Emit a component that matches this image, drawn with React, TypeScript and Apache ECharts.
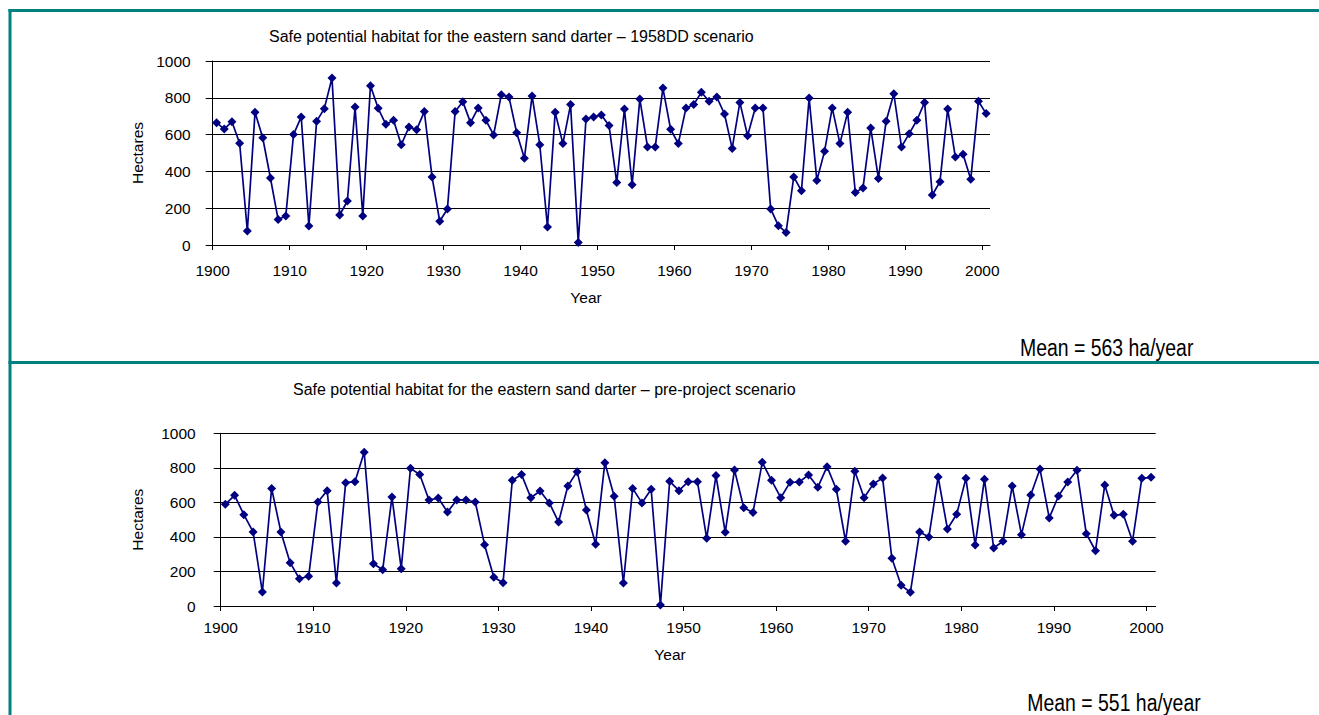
import React, { useEffect, useRef } from "react";
import * as echarts from "echarts";

// ---- data ----
const YEARS: number[] = Array.from({ length: 101 }, (_, i) => 1900 + i);

const HABITAT_1958DD: number[] = [
  665, 630, 670, 553, 76, 721, 583, 364, 139, 158,
  600, 696, 103, 672, 741, 908, 163, 239, 750, 158,
  866, 743, 656, 678, 545, 641, 627, 725, 370, 129,
  196, 725, 779, 665, 745, 678, 598, 817, 804, 610,
  471, 810, 545, 98, 721, 551, 763, 13, 685, 696,
  707, 649, 339, 739, 328, 793, 533, 533, 853, 629,
  551, 745, 763, 830, 781, 804, 712, 525, 775, 594,
  745, 745, 196, 105, 68, 370, 295, 799, 351, 509,
  745, 551, 721, 286, 310, 636, 362, 672, 822, 533,
  605, 678, 775, 272, 344, 739, 478, 493, 357, 781,
  714,
];

const HABITAT_PRE_PROJECT: number[] = [
  589, 641, 529, 429, 81, 681, 429, 251, 158, 172,
  602, 668, 133, 714, 720, 890, 245, 210, 631, 216,
  797, 761, 614, 625, 544, 614, 614, 602, 355, 166,
  135, 728, 761, 627, 666, 597, 486, 695, 778, 556,
  357, 830, 635, 133, 681, 597, 676, 6, 722, 668,
  720, 720, 392, 755, 427, 788, 569, 542, 832, 728,
  627, 716, 718, 759, 687, 807, 676, 375, 780, 627,
  707, 741, 276, 120, 79, 429, 400, 747, 446, 531,
  739, 353, 734, 336, 375, 695, 413, 643, 793, 510,
  637, 718, 786, 419, 320, 701, 525, 531, 375, 739,
  745,
];

const X_TICKS: number[] = [1900, 1910, 1920, 1930, 1940, 1950, 1960, 1970, 1980, 1990, 2000];
const Y_TICKS: number[] = [0, 200, 400, 600, 800, 1000];

const TITLE_TOP = "Safe potential habitat for the eastern sand darter \u2013 1958DD scenario";
const TITLE_BOTTOM = "Safe potential habitat for the eastern sand darter \u2013 pre-project scenario";
const MEAN_TOP = "Mean = 563 ha/year";
const MEAN_BOTTOM = "Mean = 551 ha/year";
const X_NAME = "Year";
const Y_NAME = "Hectares";

const FONT = '"Liberation Sans", Arial, Helvetica, sans-serif';
const NAVY = "#000080";
const TEAL = "#008080";

function makeXAxis(gridIndex: number, margin: number) {
  return {
    type: "value",
    gridIndex,
    min: X_TICKS[0],
    max: X_TICKS[X_TICKS.length - 1] + 1,
    interval: 10,
    axisLine: { show: true, onZero: false, lineStyle: { color: "#000", width: 1 } },
    axisTick: { show: true, length: 5, customValues: X_TICKS, lineStyle: { color: "#000" } },
    axisLabel: {
      customValues: X_TICKS,
      margin,
      color: "#000",
      fontSize: 15.5,
      fontFamily: FONT,
      formatter: (v: number) => (v % 10 === 0 ? String(v) : ""),
    },
    splitLine: { show: false },
  };
}

function makeYAxis(gridIndex: number, margin: number, nameGap: number) {
  return {
    type: "value",
    gridIndex,
    min: Y_TICKS[0],
    max: Y_TICKS[Y_TICKS.length - 1],
    interval: 200,
    name: Y_NAME,
    nameLocation: "middle",
    nameGap,
    nameTextStyle: { color: "#000", fontSize: 15.5, fontFamily: FONT },
    axisLine: { show: true, lineStyle: { color: "#000", width: 1 } },
    axisTick: { show: true, length: 7, lineStyle: { color: "#000" } },
    axisLabel: {
      margin,
      color: "#000",
      fontSize: 15.5,
      fontFamily: FONT,
      formatter: (v: number) => String(v),
    },
    splitLine: { show: true, lineStyle: { color: "#000", width: 1 } },
  };
}

function makeSeries(values: number[], idx: number) {
  return {
    type: "line",
    xAxisIndex: idx,
    yAxisIndex: idx,
    data: YEARS.map((y, i) => [y + 0.5, values[i]]),
    symbol: "diamond",
    symbolSize: [9, 9],
    showSymbol: true,
    clip: false,
    itemStyle: { color: NAVY },
    lineStyle: { color: NAVY, width: 1.7 },
  };
}

function text(x: number, y: number, str: string, size: number, align = "left", scaleX = 1) {
  return {
    type: "text",
    x,
    y,
    scaleX,
    style: {
      text: str,
      fill: "#000",
      fontSize: size,
      fontFamily: FONT,
      textAlign: align,
      textVerticalAlign: "middle",
    },
    z: 10,
  };
}

export default function App() {
  const ref = useRef<HTMLDivElement>(null);
  useEffect(() => {
    if (!ref.current) return;
    const chart = echarts.init(ref.current, null, { renderer: "svg" });
    chart.setOption({
      animation: false,
      backgroundColor: "#fff",
      grid: [
        { left: 212.7, top: 61, width: 777.3, height: 184 },
        { left: 220.7, top: 433.3, width: 935, height: 172.7 },
      ],
      xAxis: [makeXAxis(0, 17), makeXAxis(1, 13)],
      yAxis: [makeYAxis(0, 22, 55), makeYAxis(1, 25, 75)],
      series: [makeSeries(HABITAT_1958DD, 0), makeSeries(HABITAT_PRE_PROJECT, 1)],
      graphic: [
        { type: "line", shape: { x1: 8.5, y1: 10.5, x2: 1319, y2: 10.5 }, style: { stroke: TEAL, lineWidth: 3 } },
        { type: "line", shape: { x1: 10, y1: 9, x2: 10, y2: 715 }, style: { stroke: TEAL, lineWidth: 3 } },
        { type: "line", shape: { x1: 8.5, y1: 362.5, x2: 1319, y2: 362.5 }, style: { stroke: TEAL, lineWidth: 3 } },
        text(269, 36.5, TITLE_TOP, 16),
        text(293, 389, TITLE_BOTTOM, 16),
        text(586, 297, X_NAME, 15.5, "center"),
        text(670, 654, X_NAME, 15.5, "center"),
        text(1020, 348, MEAN_TOP, 24, "left", 0.81),
        text(1027.3, 702.5, MEAN_BOTTOM, 24, "left", 0.81),
      ],
    });
    return () => chart.dispose();
  }, []);
  return (
    <div
      ref={ref}
      style={{ position: "absolute", left: 0, top: 0, width: 1319, height: 715 }}
    />
  );
}
